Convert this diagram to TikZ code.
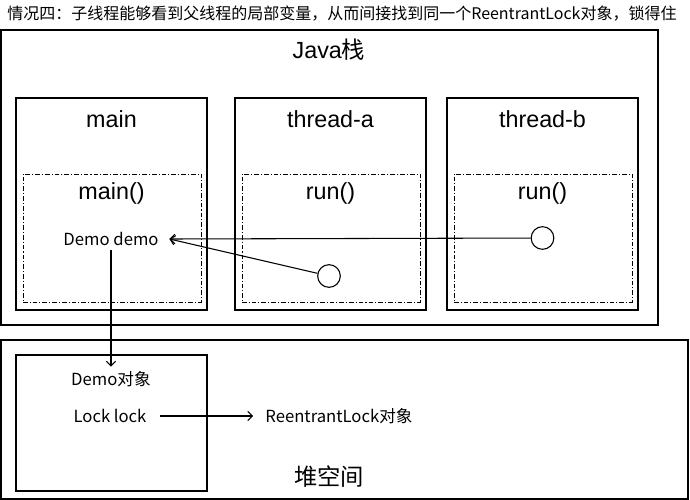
\documentclass[tikz,border=0pt]{standalone}
\usepackage{fontspec}
\setmainfont{Liberation Sans}
\newfontfamily\cjk{Noto Sans CJK SC}
\usetikzlibrary{positioning,fit,arrows.meta}

\tikzset{
  box/.style={draw,line width=0.8pt,inner sep=0pt},
  stackbox/.style={draw,line width=0.7pt,inner sep=0pt,
    dash pattern=on 3.5pt off 1.5pt on 0.8pt off 1.5pt},
  ref/.style={circle,draw,line width=0.8pt,minimum size=17pt,inner sep=0pt},
  big/.style={font=\fontsize{17.5}{20}\selectfont},
  small/.style={font=\cjk\fontsize{12.5}{15}\selectfont},
  link/.style={line width=0.8pt,-{Straight Barb[length=3.5pt,width=7pt]}}
}

\begin{document}
\begin{tikzpicture}[x=0.75pt,y=-0.75pt]
  \useasboundingbox (0,0) rectangle (690,500);
  % title
  \node[anchor=west,inner sep=0pt,font=\cjk\fontsize{12}{15}\selectfont] (title) at (7,14)
    {情况四：子线程能够看到父线程的局部变量，从而间接找到同一个ReentrantLock对象，锁得住};
  % Java stack
  \node[box,fit={(1,30) (658,325)}] (stack) {};
  \node[big] (stacklbl) at (329,50) {Java{\cjk 栈}};
  \foreach \x/\nm/\lbl/\fn in {16/main/main/main(), 235/ta/thread-a/run(), 447/tb/thread-b/run()}{
    \node[box,fit={(\x,98) (\x+191,310)}] (\nm) {};
    \node[big] (\nm lbl) at (\x+95.5,119) {\lbl};
    \node[stackbox,fit={(\x+7,174) (\x+185,302)}] (\nm frame) {};
    \node[big] (\nm fn) at (\x+95.5,193) {\fn};
  }
  \node[small,inner xsep=8pt] (demo) at (111,239) {Demo demo};
  \node[ref] (refa) at (329,276) {};
  \node[ref] (refb) at (542.5,238) {};
  \draw[link] (refb) -- (demo.east);
  \draw[link] (refa) -- (demo.east);
  % heap
  \node[box,fit={(1,340) (688,499)}] (heap) {};
  \node[box,fit={(16,355) (207,491)}] (demoobj) {};
  \node[small] (demolbl) at (111,379) {Demo对象};
  \node[small,inner xsep=10pt] (lock) at (110,416) {Lock lock};
  \node[small,inner xsep=9pt] (rlock) at (339,416) {ReentrantLock对象};
  \node[big,font=\cjk\fontsize{17.5}{20}\selectfont] (heaplbl) at (329,477) {堆空间};
  \draw[link] (demo) -- (demolbl);
  \draw[link] (lock) -- (rlock);
\end{tikzpicture}
\end{document}
